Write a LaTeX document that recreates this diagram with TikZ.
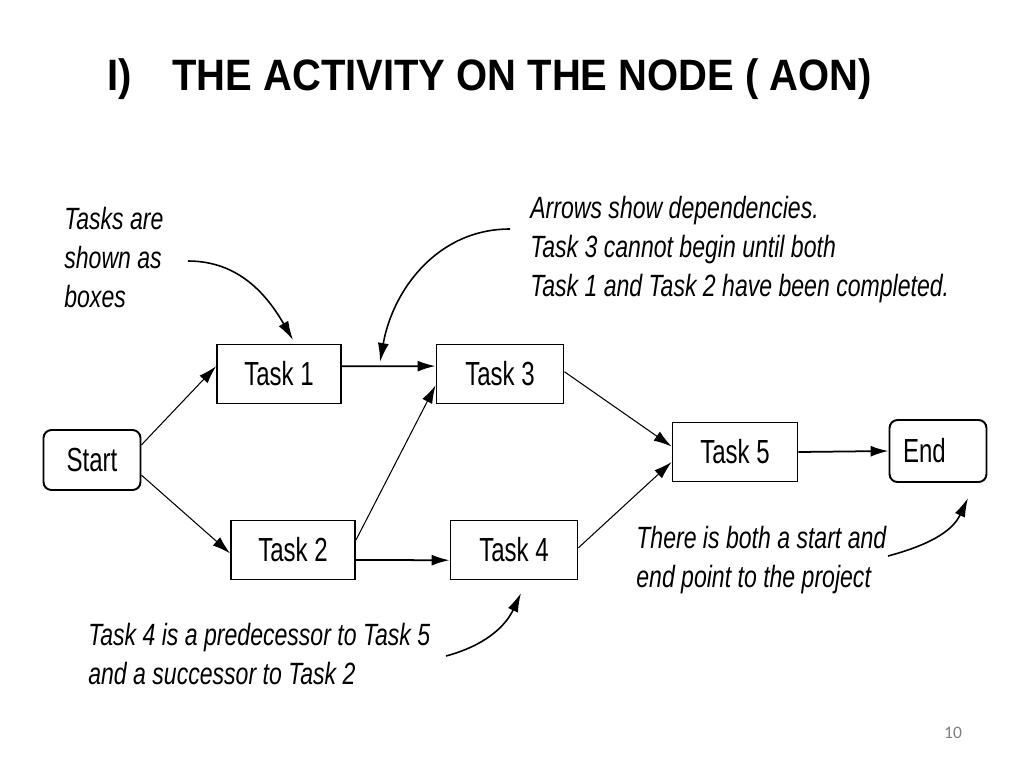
\documentclass[tikz,border=0pt]{standalone}
\usepackage{fontspec}
\setmainfont{Liberation Sans}
\newfontfamily\narrowfont[FakeStretch=0.72]{Liberation Sans}
\newfontfamily\notefont[FakeStretch=0.75]{Liberation Sans}
\newfontfamily\titlefont[FakeStretch=0.91]{Liberation Sans}
\newfontfamily\numfont{Carlito}
\usetikzlibrary{arrows.meta,positioning}

\tikzset{
  task/.style={draw, line width=1.1pt, minimum width=2.48cm, minimum height=1.18cm,
    inner sep=0pt, font=\narrowfont\fontsize{19}{19}\selectfont},
  endpoint/.style={task, rounded corners=0.16cm, minimum width=1.94cm, minimum height=1.2cm},
  dep/.style={-{Latex[length=0.36cm,width=0.22cm]}, line width=0.6pt},
  depthick/.style={dep, line width=1pt},
  note/.style={anchor=north west, inner sep=0pt, align=left,
    font=\notefont\itshape\fontsize{17.5}{22.2}\selectfont},
  pointer/.style={-{Latex[length=0.38cm,width=0.22cm]}, line width=0.9pt},
}

\begin{document}
\begin{tikzpicture}[x=0.02cm,y=-0.02cm]
\useasboundingbox[fill=white] (0,0) rectangle (1024,768);

% title
\node[anchor=base west, inner sep=0pt, font=\titlefont\bfseries\fontsize{25}{25}\selectfont] (num) at (107,90) {I)};
\node[anchor=base west, inner sep=0pt, font=\titlefont\bfseries\fontsize{25}{25}\selectfont] (title) at (172,90) {THE ACTIVITY ON THE NODE ( AON)};

% the network
\node[endpoint] (start) at (92,460) {Start};
\node[task] (task1) at (279,374) {Task 1};
\node[task] (task2) at (293,550) {Task 2};
\node[task, minimum width=2.54cm] (task3) at (500,374) {Task 3};
\node[task, minimum width=2.54cm] (task4) at (514,550) {Task 4};
\node[task, minimum width=2.5cm] (task5) at (735,452) {Task 5};
\node[endpoint, minimum height=1.24cm, align=left, text width=1.4cm] (finish) at (938,451) {End};

\draw[dep] (start.17) -- (task1.173);
\draw[dep] (start.-17) -- (task2.183);
\draw[depthick] (task1.7) -- (task3.173);
\draw[dep] (task2.9) -- (task3.190);
\draw[depthick] (task2.-9) -- (task4.189);
\draw[dep] (task3.2) -- (task5.175);
\draw[dep] (task4.2) -- (task5.189);
\draw[depthick] (task5.east) -- (finish.west);

% notes
\node[note] (boxnote) at (64,207) {Tasks are\\shown as\\boxes};
\node[note] (arrownote) at (530,196) {Arrows show dependencies.\\Task 3 cannot begin until both\\Task 1 and Task 2 have been completed.};
\node[note] (prednote) at (88,623) {Task 4 is a predecessor to Task 5\\and a successor to Task 2};
\node[note] (endnote) at (636,526) {There is both a start and\\end point to the project};

\coordinate (boxtail) at (188,261);
\coordinate (boxtip) at (293,340);
\coordinate (arrowtail) at (510,229);
\coordinate (arrowtip) at (380,362);
\coordinate (predtail) at (446,656);
\coordinate (predtip) at (521,593);
\coordinate (endtail) at (888,556);
\coordinate (endtip) at (968,498);

\draw[pointer] (boxtail) to[out=0, in=120] (boxtip);
\draw[pointer] (arrowtail) to[out=180, in=80] (arrowtip);
\draw[pointer] (predtail) to[out=15, in=245] (predtip);
\draw[pointer] (endtail) to[out=15, in=245] (endtip);

% page number
\node[font=\numfont\fontsize{10}{10}\selectfont, text=gray] (page) at (953,733) {10};
\end{tikzpicture}
\end{document}
